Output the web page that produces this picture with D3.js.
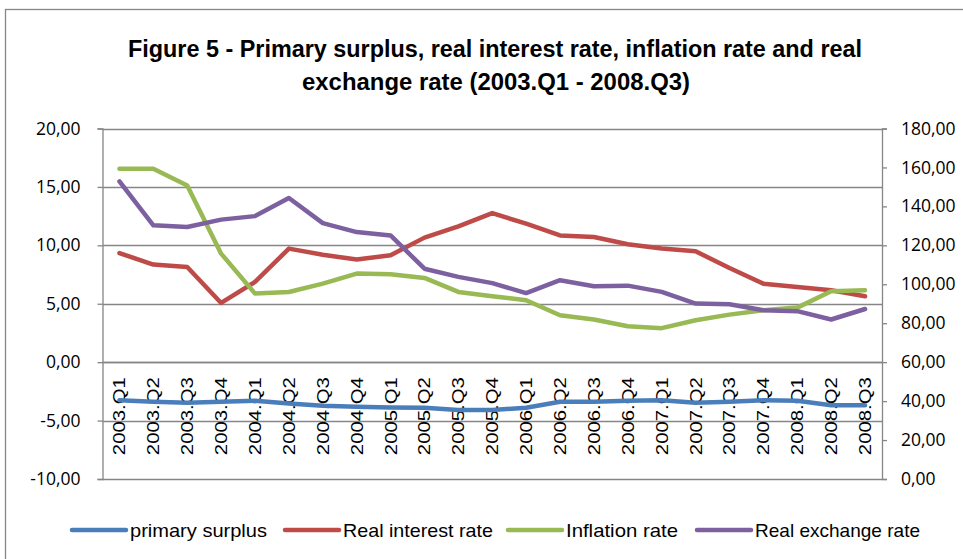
<!DOCTYPE html>
<html>
<head>
<meta charset="utf-8">
<script src="https://cdn.jsdelivr.net/npm/d3@7"></script>
<style>
  body { margin: 0; background: #fff; }
  svg { display: block; }
</style>
</head>
<body>
<div id="chart"></div>
<script>
// quarters on the category axis
var quarters = ["2003.Q1","2003.Q2","2003.Q3","2003.Q4","2004.Q1","2004.Q2","2004.Q3","2004.Q4",
    "2005.Q1","2005.Q2","2005.Q3","2005.Q4","2006.Q1","2006.Q2","2006.Q3","2006.Q4",
    "2007.Q1","2007.Q2","2007.Q3","2007.Q4","2008.Q1","2008.Q2","2008.Q3"];

// left axis series
var primarySurplus = [-3.25,-3.39,-3.47,-3.39,-3.30,-3.53,-3.73,-3.82,-3.87,-3.90,-4.10,-4.10,
    -3.90,-3.39,-3.39,-3.30,-3.25,-3.47,-3.39,-3.25,-3.30,-3.68,-3.68];
var realInterest = [9.34,8.35,8.15,5.07,6.87,9.72,9.20,8.78,9.15,10.66,11.62,12.76,
    11.85,10.85,10.71,10.09,9.72,9.49,8.06,6.72,6.44,6.15,5.64];
var inflation = [16.55,16.55,15.13,9.29,5.87,6.01,6.72,7.58,7.52,7.21,6.01,5.65,
    5.30,4.02,3.65,3.08,2.91,3.59,4.07,4.44,4.67,6.07,6.15];
// right axis series
var realExchange = [152.8,130.3,129.4,133.2,135.0,144.3,131.4,126.8,125.1,108.0,103.8,100.6,
    95.5,102.1,99.0,99.3,96.1,90.1,89.7,86.7,86.2,81.9,87.3];

var leftTicks = [-10,-5,0,5,10,15,20];
var rightTicks = [0,20,40,60,80,100,120,140,160,180];

var seriesNames = ["primary surplus","Real interest rate","Inflation rate","Real exchange rate"];
var seriesColors = ["#4A7EBB","#BE4B48","#98B954","#7D60A0"];

var width = 963, height = 559;
var plotLeft = 102.5, plotRight = 882, plotTop = 128.5, plotBottom = 479;
var grey = "#868686";
var fmt = function(v) { return d3.format(".2f")(v).replace(".", ",").replace("\u2212", "-"); };

var svg = d3.select("#chart").append("svg")
    .attr("width", width)
    .attr("height", height);

// chart border
svg.append("rect")
    .attr("x", 5.5).attr("y", 9.5)
    .attr("width", 1000).attr("height", 600)
    .attr("fill", "none")
    .attr("stroke", grey)
    .attr("stroke-width", 1.3);

var x = d3.scaleBand().domain(quarters).range([plotLeft, plotRight]);
var yL = d3.scaleLinear().domain([-10, 20]).range([plotBottom, plotTop]);
var yR = d3.scaleLinear().domain([0, 180]).range([plotBottom, plotTop]);
var xc = function(q) { return x(q) + x.bandwidth() / 2; };

// title
var title = svg.append("g")
    .attr("font-family", "'Liberation Sans', sans-serif")
    .attr("font-weight", "bold")
    .attr("font-size", 23)
    .attr("fill", "#000")
    .attr("text-anchor", "middle");
title.append("text").attr("x", 495).attr("y", 57)
    .attr("textLength", 734).attr("lengthAdjust", "spacingAndGlyphs")
    .text("Figure 5 - Primary surplus, real interest rate, inflation rate and real");
title.append("text").attr("x", 496).attr("y", 90)
    .attr("textLength", 388).attr("lengthAdjust", "spacingAndGlyphs")
    .text("exchange rate (2003.Q1 - 2008.Q3)");

// gridlines
svg.append("g")
    .selectAll("line")
    .data(leftTicks)
    .enter().append("line")
    .attr("x1", plotLeft).attr("x2", plotRight)
    .attr("y1", function(d) { return Math.round(yL(d)) + 0.5; })
    .attr("y2", function(d) { return Math.round(yL(d)) + 0.5; })
    .attr("stroke", grey)
    .attr("stroke-width", 1.3);

// left axis
var axL = svg.append("g")
    .attr("transform", "translate(" + plotLeft + ",0)")
    .call(d3.axisLeft(yL).tickValues(leftTicks).tickSize(5).tickPadding(17).tickFormat(fmt));
// right axis
var axR = svg.append("g")
    .attr("transform", "translate(" + plotRight + ",0)")
    .call(d3.axisRight(yR).tickValues(rightTicks).tickSize(5).tickPadding(14).tickFormat(fmt));

[axL, axR].forEach(function(ax) {
    ax.selectAll(".domain").attr("stroke", grey).attr("stroke-width", 1.3);
    ax.selectAll(".tick line").attr("stroke", grey).attr("stroke-width", 1.3);
    ax.selectAll("text")
        .attr("font-family", "'Open Sans', sans-serif")
        .attr("font-size", 17.5)
        .attr("fill", "#000");
});

// category axis at zero
svg.append("line")
    .attr("x1", plotLeft).attr("x2", plotRight)
    .attr("y1", Math.round(yL(0)) + 0.5).attr("y2", Math.round(yL(0)) + 0.5)
    .attr("stroke", grey)
    .attr("stroke-width", 1.3);

svg.append("g")
    .selectAll("text")
    .data(quarters)
    .enter().append("text")
    .attr("transform", function(d) { return "translate(" + (xc(d) + 6) + "," + (yL(0) + 15) + ") rotate(-90)"; })
    .attr("text-anchor", "end")
    .attr("font-family", "'Liberation Sans', Arial, sans-serif")
    .attr("font-size", 17)
    .attr("fill", "#000")
    .attr("textLength", 78)
    .attr("lengthAdjust", "spacingAndGlyphs")
    .text(function(d) { return d; });

// series lines
var lineL = d3.line()
    .x(function(d, i) { return xc(quarters[i]); })
    .y(function(d) { return yL(d); });
var lineR = d3.line()
    .x(function(d, i) { return xc(quarters[i]); })
    .y(function(d) { return yR(d); });

var series = [
    { values: primarySurplus, line: lineL },
    { values: realInterest, line: lineL },
    { values: inflation, line: lineL },
    { values: realExchange, line: lineR }
];

svg.append("g")
    .selectAll("path")
    .data(series)
    .enter().append("path")
    .attr("d", function(d) { return d.line(d.values); })
    .attr("fill", "none")
    .attr("stroke", function(d, i) { return seriesColors[i]; })
    .attr("stroke-width", 4.5)
    .attr("stroke-linejoin", "round")
    .attr("stroke-linecap", "round");

// legend
var legendX = [72, 285, 508, 697];
var legendW = [137, 150, 112, 165];
var legend = svg.append("g")
    .selectAll("g")
    .data(seriesNames)
    .enter().append("g")
    .attr("transform", function(d, i) { return "translate(" + legendX[i] + ",530)"; });
legend.append("line")
    .attr("x1", 0).attr("x2", 54)
    .attr("stroke", function(d, i) { return seriesColors[i]; })
    .attr("stroke-width", 4.5)
    .attr("stroke-linecap", "round");
legend.append("text")
    .attr("x", 58).attr("y", 6.5)
    .attr("font-family", "'Liberation Sans', sans-serif")
    .attr("font-size", 19)
    .attr("fill", "#000")
    .attr("textLength", function(d, i) { return legendW[i]; })
    .attr("lengthAdjust", "spacingAndGlyphs")
    .text(function(d) { return d; });
</script>
</body>
</html>
